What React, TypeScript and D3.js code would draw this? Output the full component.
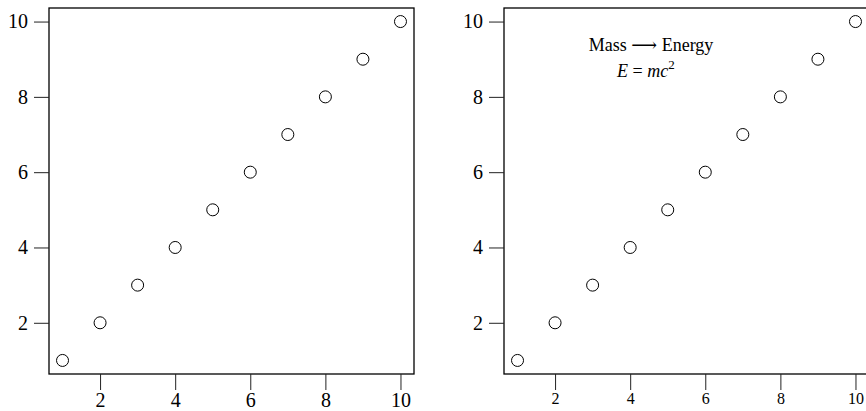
import React, { useRef, useEffect } from 'react';
import * as d3 from 'd3';

const xValues = [1, 2, 3, 4, 5, 6, 7, 8, 9, 10];
const yValues = [1, 2, 3, 4, 5, 6, 7, 8, 9, 10];
const tickValues = [2, 4, 6, 8, 10];
const noteLine1 = 'Mass \u27F6 Energy';

const FONT = '"Liberation Serif", "DejaVu Serif", serif';

export default function App() {
  const ref = useRef<SVGSVGElement>(null);

  useEffect(() => {
    const svg = d3.select(ref.current);
    svg.selectAll('*').remove();

    // R-style 4% padding on both ends
    const lo = d3.min(xValues)!;
    const hi = d3.max(xValues)!;
    const pad = (hi - lo) * 0.04;

    const panels = [
      { left: 49, xFont: 20, note: false },
      { left: 504, xFont: 16, note: true },
    ];

    panels.forEach(p => {
      const top = 8;
      const bottom = 374;
      const right = p.left + 365;

      const x = d3.scaleLinear().domain([lo - pad, hi + pad]).range([p.left, right]);
      const y = d3.scaleLinear().domain([lo - pad, hi + pad]).range([bottom, top]);

      const g = svg.append('g');

      // box
      g.append('rect')
        .attr('x', p.left)
        .attr('y', top)
        .attr('width', right - p.left)
        .attr('height', bottom - top)
        .attr('fill', 'none')
        .attr('stroke', '#000')
        .attr('stroke-width', 1.3);

      // x axis
      const xAxis = g
        .append('g')
        .attr('transform', `translate(0,${bottom})`)
        .call(d3.axisBottom(x).tickValues(tickValues).tickSize(16).tickPadding(3));
      xAxis.select('.domain').remove();
      xAxis.selectAll('line').attr('stroke', '#222');
      xAxis
        .selectAll('text')
        .attr('font-family', FONT)
        .attr('font-size', p.xFont)
        .attr('fill', '#000');

      // y axis
      const yAxis = g
        .append('g')
        .attr('transform', `translate(${p.left},0)`)
        .call(d3.axisLeft(y).tickValues(tickValues).tickSize(15).tickPadding(6));
      yAxis.select('.domain').remove();
      yAxis.selectAll('line').attr('stroke', '#222');
      yAxis
        .selectAll('text')
        .attr('font-family', FONT)
        .attr('font-size', 20)
        .attr('fill', '#000');

      // points
      g.selectAll('circle')
        .data(xValues.map((v, i) => [v, yValues[i]]))
        .join('circle')
        .attr('cx', d => x(d[0]))
        .attr('cy', d => y(d[1]))
        .attr('r', 6)
        .attr('fill', 'none')
        .attr('stroke', '#000')
        .attr('stroke-width', 1);

      if (p.note) {
        g.append('text')
          .attr('x', x(2.9))
          .attr('y', 51)
          .attr('font-family', FONT)
          .attr('font-size', 18)
          .text(noteLine1);

        const eq = g
          .append('text')
          .attr('x', x(3.65))
          .attr('y', 77)
          .attr('font-family', FONT)
          .attr('font-size', 18);
        eq.append('tspan').attr('font-style', 'italic').text('E');
        eq.append('tspan').text(' = ');
        eq.append('tspan').attr('font-style', 'italic').text('mc');
        eq.append('tspan').attr('font-size', 13).attr('dy', -8).text('2');
      }
    });
  }, []);

  return (
    <svg
      ref={ref}
      width={866}
      height={411}
      style={{ display: 'block', position: 'absolute', left: 0, top: 0 }}
    />
  );
}
